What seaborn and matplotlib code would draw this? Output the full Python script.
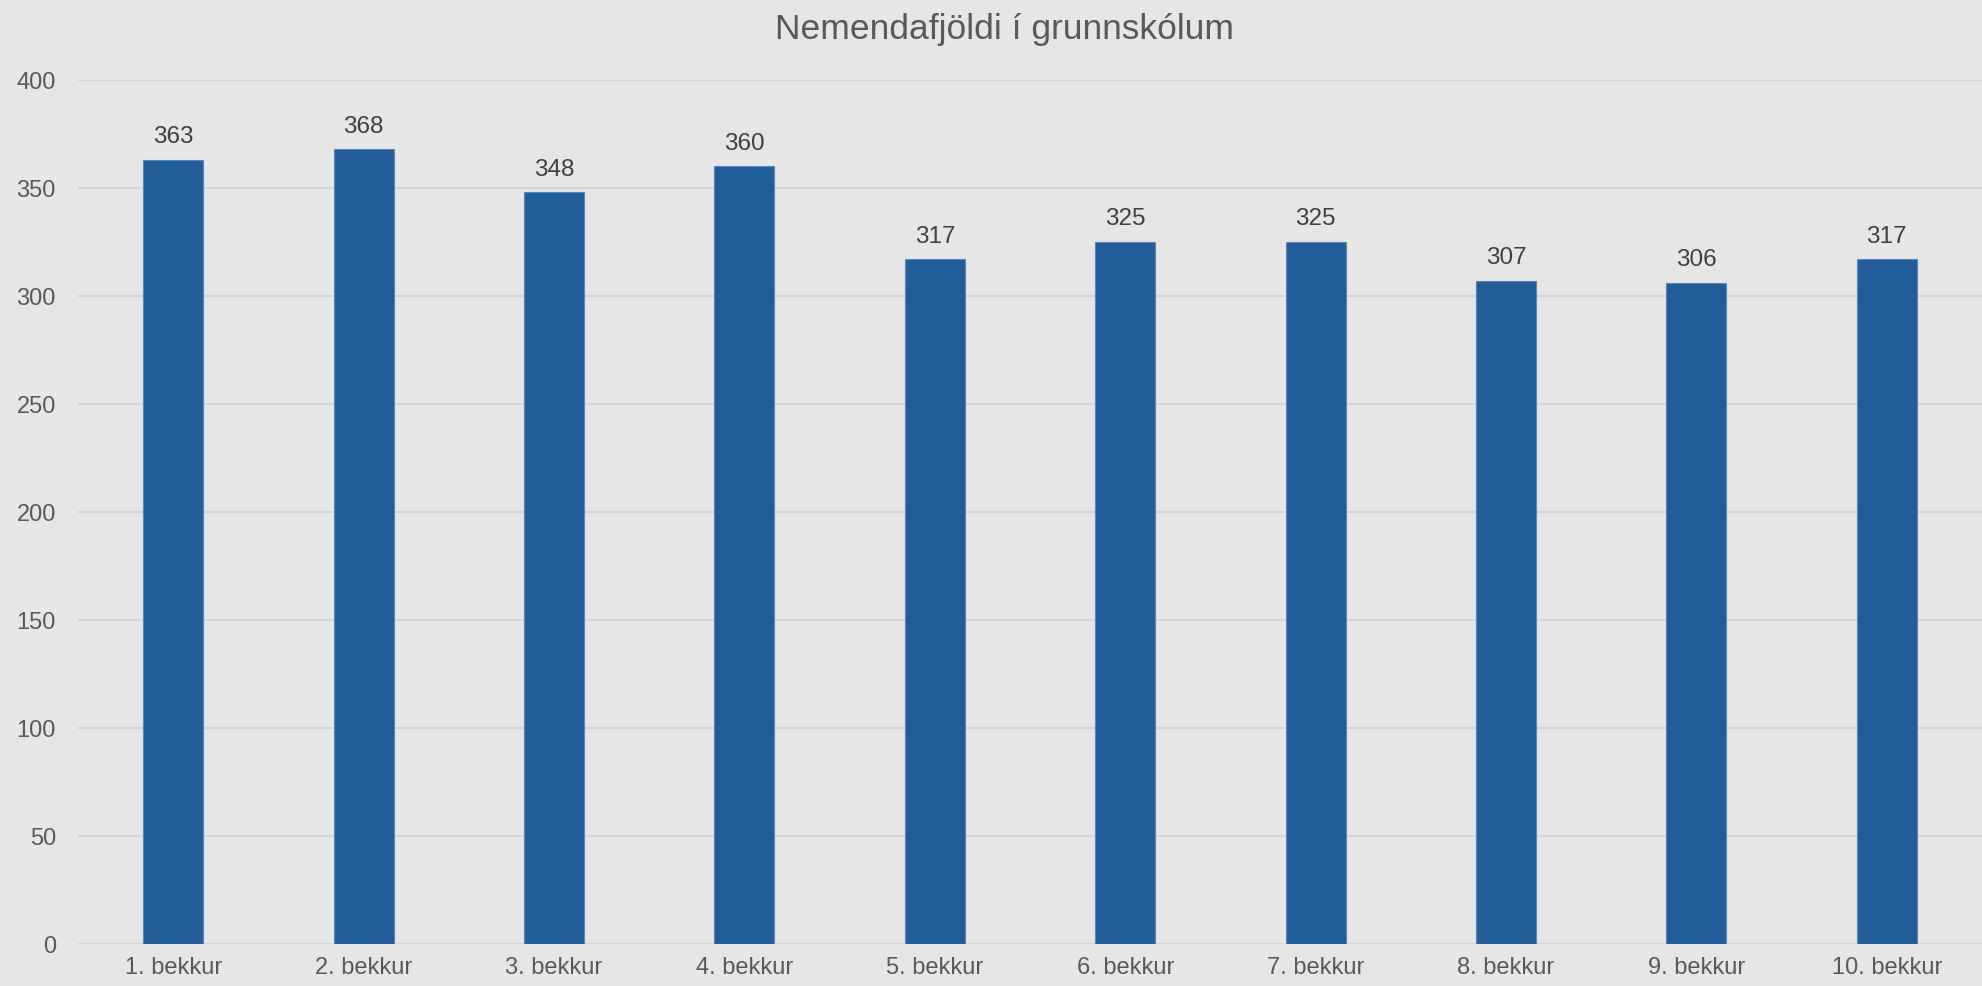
import matplotlib
matplotlib.use("Agg")
import matplotlib.pyplot as plt
import seaborn as sns
import pandas as pd

# Data
grades = ["1. bekkur", "2. bekkur", "3. bekkur", "4. bekkur", "5. bekkur",
          "6. bekkur", "7. bekkur", "8. bekkur", "9. bekkur", "10. bekkur"]
students = [363, 368, 348, 360, 317, 325, 325, 307, 306, 317]
y_ticks = [0, 50, 100, 150, 200, 250, 300, 350, 400]

df = pd.DataFrame({"bekkur": grades, "nemendur": students})

sns.set_style("white")
plt.rcParams["font.family"] = ["Liberation Sans", "DejaVu Sans"]

bg = "#e6e6e6"
fig = plt.figure(figsize=(19.82, 9.87), dpi=100, facecolor=bg)
ax = fig.add_axes([0.0394, 0.0426, 0.9606, 0.8754])
ax.set_facecolor(bg)

sns.barplot(data=df, x="bekkur", y="nemendur", color="#215d9b",
            width=0.315, saturation=1, edgecolor="#5b86b8", linewidth=0.8,
            ax=ax, zorder=3)

# Value labels above bars
for i, v in enumerate(students):
    ax.annotate(str(v), (i, v), xytext=(0, 9), textcoords="offset points",
                ha="center", va="bottom", fontsize=17.5, color="#404040")

ax.set_ylim(0, 400)
ax.set_xlim(-0.5, len(grades) - 0.5)
ax.set_yticks(y_ticks)
ax.yaxis.grid(True, color="#d4d4d4", linewidth=1.5, zorder=0)
ax.set_axisbelow(True)
for s in ax.spines.values():
    s.set_visible(False)
ax.tick_params(axis="both", length=0, labelsize=17, labelcolor="#595959")
ax.tick_params(axis="y", pad=16)
ax.tick_params(axis="x", pad=9)
ax.set_xlabel("")
ax.set_ylabel("")

fig.text(0.507, 0.96, "Nemendafjöldi í grunnskólum", ha="center",
         va="baseline", fontsize=25.5, color="#595959")

fig.savefig("out.png", dpi=100, facecolor=bg)
